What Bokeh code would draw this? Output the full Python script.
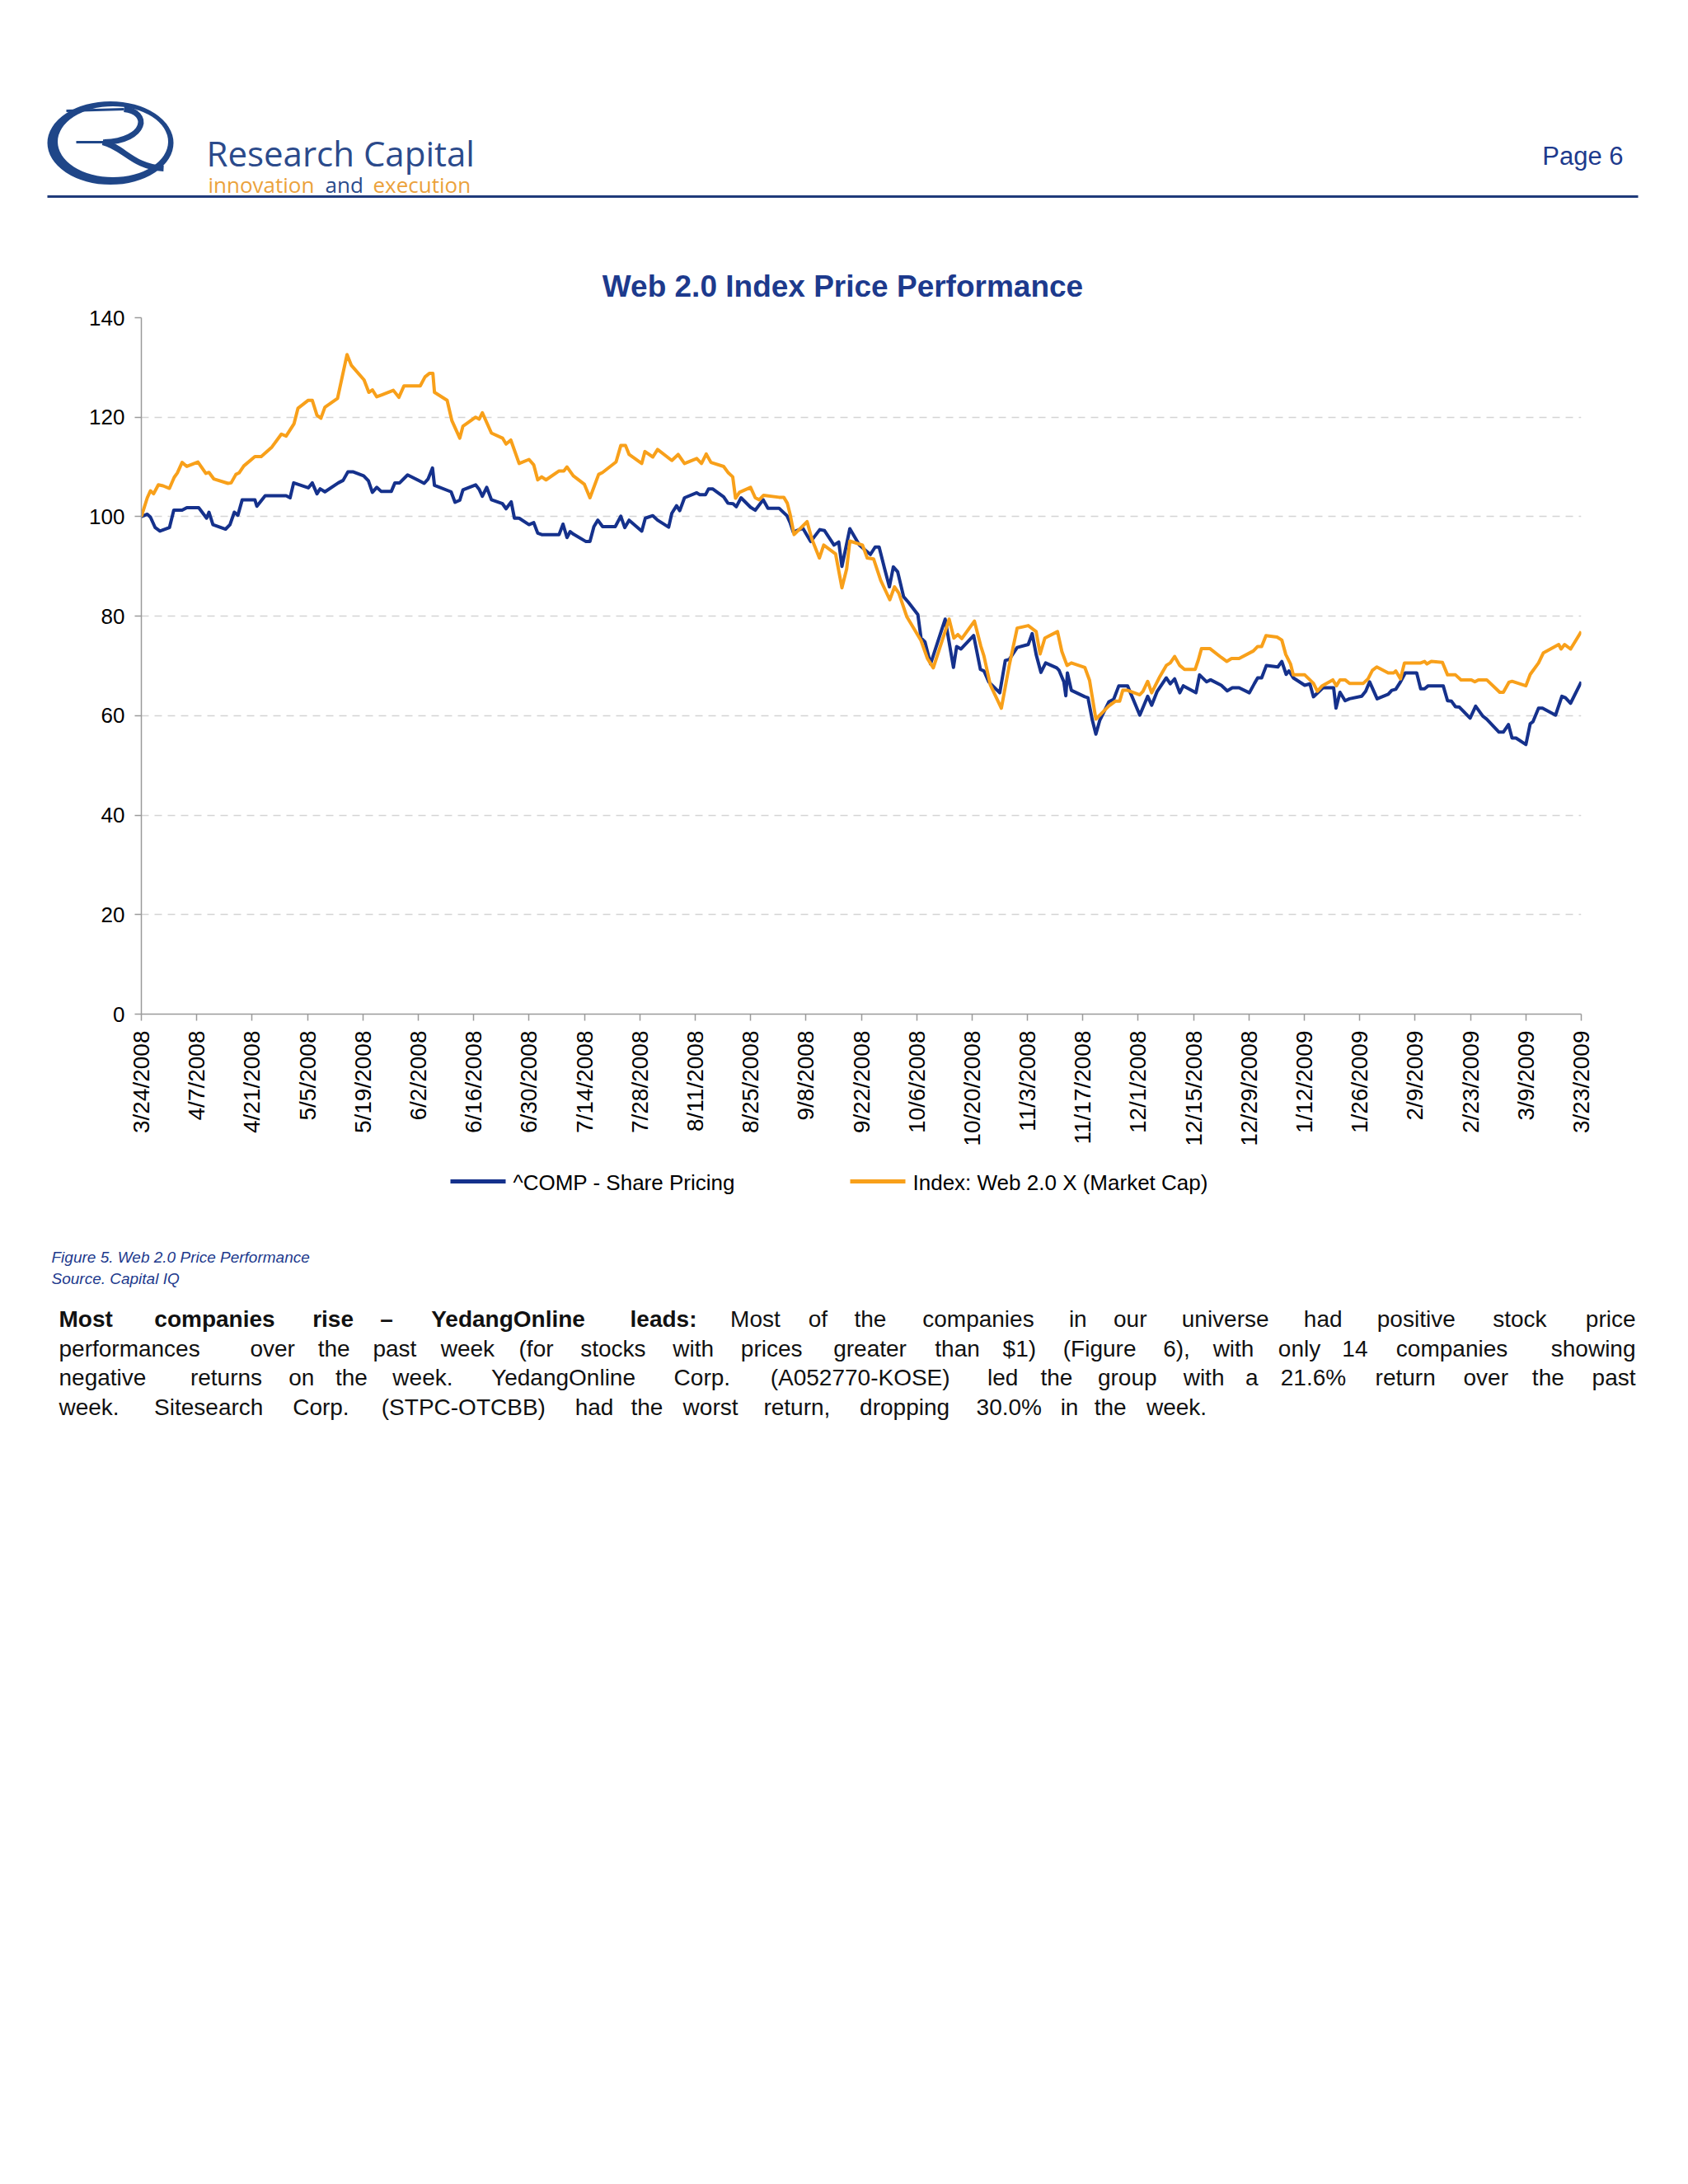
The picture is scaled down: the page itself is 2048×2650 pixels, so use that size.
import math
from bokeh.plotting import figure
from bokeh.models import Range1d, FixedTicker
from bokeh.layouts import column
from bokeh.embed import file_html
from bokeh.resources import INLINE
from bokeh.core.properties import value

# ---------------- data ----------------
# x = days after 3/24/2008, y = indexed price (3/24/2008 = 100)
comp_days = [0, 1.5, 2.3, 3.5, 4.7, 7.1, 8.2, 10.3, 11.5, 14.5, 16.5, 17.1, 18.1, 21.3, 22.4, 23.5, 24.4,
             25.5, 28.7, 29.2, 31.3, 36.6, 37.6, 38.5, 42.2, 43.2, 44.4, 45.2, 46.4, 49.8, 51.0, 52.2,
             53.6, 56.2, 57.4, 58.4, 59.5, 60.6, 63.2, 64.1, 65.3, 67.3, 71.5, 72.5, 73.6, 74.1, 78.3,
             79.3, 80.5, 81.3, 84.5, 85.4, 86.2, 87.3, 88.5, 91.3, 92.2, 93.5, 94.3, 95.5, 98.0, 99.2,
             100.2, 101.2, 105.6, 106.6, 107.6, 108.4, 109.2, 112.4, 113.4, 114.4, 115.4, 116.6, 119.8,
             121.2, 122.2, 123.3, 126.5, 127.4, 129.3, 130.5, 133.3, 134.1, 135.3, 136.1, 137.3, 140.4,
             141.2, 142.6, 143.4, 144.4, 147.2, 148.3, 149.6, 150.4, 151.6, 154.0, 155.2, 157.2, 158.4,
             161.2, 163.2, 164.0, 164.8, 167.2, 169.2, 171.5, 172.7, 175.1, 176.3, 177.1, 179.1, 181.5,
             183.1, 184.3, 185.5, 186.5, 187.9, 189.1, 190.1, 191.2, 192.7, 193.9, 196.3, 197.1, 198.1,
             199.5, 203.2, 205.3, 206.1, 207.2, 210.4, 212.1, 213.0, 214.2, 217.0, 218.4, 219.4, 221.4,
             224.2, 225.2, 226.2, 227.4, 228.6, 231.4, 232.0, 233.2, 233.7, 234.1, 235.1, 238.5, 239.3,
             240.4, 241.3, 242.3, 244.6, 245.8, 247.1, 249.3, 252.4, 254.4, 255.4, 256.8, 259.1, 260.1,
             261.2, 262.5, 263.4, 266.6, 267.5, 269.3, 270.3, 273.0, 274.5, 275.8, 277.5, 280.1, 281.4,
             282.2, 283.2, 284.4, 287.3, 288.3, 289.4, 290.1, 291.2, 294.1, 295.4, 296.3, 298.7, 301.4,
             302.0, 303.0, 304.3, 305.4, 308.5, 309.5, 310.5, 312.4, 315.2, 316.1, 317.1, 318.3, 319.5,
             322.4, 323.4, 324.4, 325.3, 329.1, 330.2, 331.2, 332.2, 333.2, 335.9, 337.3, 339.1, 340.1,
             343.2, 344.3, 345.6, 346.5, 347.5, 350.0, 351.1, 351.8, 353.2, 354.2, 357.5, 359.1, 360.0,
             361.3, 364.0]
comp_vals = [100, 100.5, 99.9, 97.8, 97.1, 97.8, 101.3, 101.3, 101.8, 101.8, 99.7, 100.9, 98.4, 97.5, 98.4,
             100.9, 100.3, 103.4, 103.4, 102.1, 104.2, 104.2, 103.8, 106.8, 105.8, 106.8, 104.6, 105.6,
             105.0, 106.8, 107.3, 109.0, 109.0, 108.2, 107.2, 104.9, 105.9, 105.1, 105.1, 106.8, 106.8,
             108.4, 106.7, 107.6, 109.8, 106.3, 105.0, 102.9, 103.3, 105.4, 106.4, 105.5, 104.1, 105.9,
             103.4, 102.6, 101.6, 103.0, 99.7, 99.7, 98.4, 98.8, 96.7, 96.4, 96.4, 98.5, 95.8, 97.0, 96.5,
             95.0, 95.0, 98.0, 99.3, 98.0, 98.0, 100.1, 97.8, 99.3, 97.1, 99.7, 100.2, 99.3, 97.9, 100.7,
             102.2, 101.2, 103.8, 104.8, 104.4, 104.4, 105.6, 105.6, 104.0, 102.7, 102.6, 102.0, 103.8,
             101.9, 101.3, 103.4, 101.7, 101.7, 100.2, 98.8, 96.9, 97.7, 95.0, 97.4, 97.2, 94.3, 94.9, 90.0,
             97.6, 94.3, 93.2, 92.4, 93.9, 93.9, 89.5, 85.9, 89.9, 88.9, 83.9, 82.8, 80.3, 75.6, 74.8, 70.4,
             79.4, 69.7, 73.9, 73.4, 76.1, 69.3, 69.0, 66.8, 64.6, 71.1, 71.3, 73.7, 74.3, 76.5, 72.3, 68.7,
             70.6, 69.6, 69.1, 66.8, 64.0, 68.6, 65.1, 63.8, 63.6, 59.1, 56.3, 59.1, 62.8, 63.3, 66.0, 66.0,
             60.1, 63.9, 62.1, 64.9, 67.6, 66.4, 67.4, 64.6, 66.0, 64.6, 68.2, 66.8, 67.2, 66.1, 65.0, 65.6,
             65.6, 64.6, 66.5, 67.6, 67.6, 70.1, 69.8, 70.9, 68.3, 69.0, 67.6, 66.1, 66.4, 63.8, 65.6, 65.6,
             61.5, 64.7, 63.0, 63.4, 63.9, 64.9, 66.8, 63.4, 64.3, 65.1, 65.3, 66.8, 68.6, 68.6, 65.4, 65.4,
             66.0, 66.0, 63.0, 62.9, 61.8, 61.7, 59.5, 61.9, 59.9, 59.3, 56.7, 56.7, 58.2, 55.5, 55.5, 54.2,
             58.4, 58.8, 61.5, 61.5, 60.1, 63.9, 63.6, 62.5, 66.8]

web_days = [0, 1.5, 2.3, 3.1, 4.3, 5.5, 7.1, 8.3, 9.1, 10.3, 11.5, 14.3, 16.3, 17.1, 18.3, 21.9, 22.7, 23.9,
            24.7, 25.9, 28.7, 30.3, 33.0, 35.4, 36.6, 38.6, 39.6, 42.2, 43.2, 44.4, 45.4, 46.4, 49.6, 52.0,
            53.1, 56.3, 57.5, 58.4, 59.5, 60.8, 63.7, 65.1, 66.4, 70.5, 71.7, 72.8, 73.7, 74.1, 77.3, 78.5,
            80.5, 81.3, 84.5, 85.4, 86.2, 88.5, 91.3, 92.2, 93.4, 95.5, 98.0, 99.2, 100.2, 101.2, 102.3,
            105.6, 106.8, 107.6, 109.2, 112.0, 113.4, 115.6, 116.6, 120.0, 121.2, 122.4, 123.3, 126.5,
            127.3, 129.3, 130.5, 134.1, 135.7, 137.3, 140.4, 141.6, 142.8, 144.0, 147.2, 148.4, 149.5,
            150.2, 151.2, 154.0, 155.2, 156.2, 157.3, 161.2, 162.4, 163.3, 164.0, 165.0, 168.3, 169.5,
            171.4, 172.5, 175.5, 177.1, 178.3, 179.1, 182.3, 183.5, 185.1, 186.9, 189.2, 190.4, 191.5,
            193.5, 197.1, 198.7, 200.2, 204.2, 205.4, 206.4, 207.4, 210.6, 212.2, 213.0, 214.6, 217.4,
            219.4, 221.4, 224.2, 226.2, 227.2, 228.4, 231.6, 232.7, 234.0, 235.1, 238.5, 239.7, 241.3,
            244.5, 246.2, 247.3, 248.1, 249.3, 252.4, 253.2, 254.4, 255.4, 257.5, 259.1, 260.1, 261.2,
            262.5, 263.7, 266.4, 267.2, 268.0, 270.1, 273.0, 274.4, 275.6, 277.5, 281.1, 282.2, 283.2,
            284.3, 287.1, 288.3, 289.3, 290.5, 291.2, 294.1, 296.3, 297.3, 298.5, 301.2, 302.1, 303.0,
            304.3, 305.4, 308.9, 310.1, 311.2, 312.3, 315.2, 316.6, 317.1, 318.3, 319.3, 323.4, 324.4,
            325.0, 326.1, 328.9, 330.2, 332.2, 333.6, 336.2, 337.1, 338.0, 340.1, 343.4, 344.3, 345.7,
            346.5, 350.0, 351.1, 353.2, 354.4, 358.3, 358.9, 359.8, 361.3, 364.0]
web_vals = [100, 103.8, 105.2, 104.6, 106.4, 106.2, 105.7, 107.9, 108.8, 110.9, 110.1, 111.0, 108.7, 108.9,
            107.6, 106.7, 106.8, 108.5, 108.8, 110.2, 112.1, 112.1, 114.0, 116.6, 116.2, 118.7, 121.8, 123.4,
            123.4, 120.4, 119.8, 122.0, 123.8, 132.6, 130.4, 127.5, 125.0, 125.5, 124.1, 124.5, 125.4, 124.0,
            126.3, 126.3, 128.1, 128.8, 128.8, 125.0, 123.4, 119.3, 115.8, 118.2, 120.0, 119.6, 120.9, 116.8,
            115.8, 114.6, 115.4, 110.7, 111.5, 110.4, 107.4, 108.0, 107.4, 109.2, 109.2, 110.0, 108.2, 106.5,
            103.8, 108.5, 108.9, 111.0, 114.3, 114.3, 112.5, 110.7, 113.1, 112.0, 113.5, 111.3, 112.5, 110.7,
            111.7, 110.7, 112.6, 110.9, 110.1, 108.8, 108.0, 103.7, 104.9, 105.9, 103.8, 103.4, 104.3, 103.9,
            103.9, 102.7, 100.5, 96.4, 99.0, 95.5, 91.7, 94.3, 92.5, 85.7, 89.5, 95.1, 94.3, 91.7, 91.5, 87.2,
            83.3, 85.9, 84.6, 79.9, 75.1, 71.5, 69.6, 79.4, 75.6, 76.3, 75.5, 79.0, 74.0, 72.0, 66.2, 61.5,
            70.1, 77.6, 78.1, 76.9, 72.4, 75.6, 76.9, 72.9, 70.1, 70.6, 69.7, 67.1, 59.3, 61.9, 62.9, 62.9,
            65.1, 65.1, 64.2, 64.9, 66.9, 64.6, 67.9, 70.1, 70.6, 71.9, 70.1, 69.3, 69.3, 71.2, 73.5, 73.5,
            71.7, 70.9, 71.5, 71.5, 73.0, 73.9, 73.9, 76.1, 75.8, 75.2, 72.3, 70.4, 68.2, 68.2, 66.5, 64.9,
            66.0, 67.2, 66.0, 67.2, 67.2, 66.5, 66.5, 67.4, 69.1, 69.8, 68.6, 68.6, 69.0, 67.4, 70.6, 70.6,
            70.9, 70.4, 70.9, 70.7, 68.2, 68.2, 67.2, 67.2, 66.8, 67.2, 67.2, 64.7, 64.7, 66.7, 66.9, 66.0,
            68.3, 70.6, 72.6, 74.3, 73.4, 74.3, 73.4, 76.9]

tick_days = list(range(0, 365, 14))
tick_labels = ["3/24/2008", "4/7/2008", "4/21/2008", "5/5/2008", "5/19/2008", "6/2/2008", "6/16/2008",
               "6/30/2008", "7/14/2008", "7/28/2008", "8/11/2008", "8/25/2008", "9/8/2008", "9/22/2008",
               "10/6/2008", "10/20/2008", "11/3/2008", "11/17/2008", "12/1/2008", "12/15/2008",
               "12/29/2008", "1/12/2009", "1/26/2009", "2/9/2009", "2/23/2009", "3/9/2009", "3/23/2009"]
y_ticks = [0, 20, 40, 60, 80, 100, 120, 140]

series_names = ["^COMP - Share Pricing", "Index: Web 2.0 X (Market Cap)"]
chart_title = "Web 2.0 Index Price Performance"
caption_lines = ["Figure 5. Web 2.0 Price Performance", "Source. Capital IQ"]
para_lines = [
    [("Most companies rise \u2013 YedangOnline leads:", True),
     ("Most of the companies in our universe had positive stock price", False)],
    [("performances over the past week (for stocks with prices greater than $1) (Figure 6), with only 14 companies showing", False)],
    [("negative returns on the week. YedangOnline Corp. (A052770-KOSE) led the group with a 21.6% return over the past", False)],
    [("week. Sitesearch Corp. (STPC-OTCBB) had the worst return, dropping 30.0% in the week.", False)],
]

# ---------------- styles ----------------
W = 2048
BLUE = "#15318c"
ORANGE = "#f8a01a"
NAVY = "#1d3a8d"
LOGO = "#1f4688"
FONT = "Liberation Sans"


def blank(height, top, bottom):
    f = figure(width=W, height=height, x_range=Range1d(0, W), y_range=Range1d(bottom, top),
               x_axis_type=None, y_axis_type=None, toolbar_location=None, output_backend="svg",
               min_border=0, outline_line_color=None)
    f.frame_align = False
    f.background_fill_color = "white"
    f.border_fill_color = "white"
    return f


# ---------------- header (page coordinates) ----------------
pa = blank(372, 0, 372)
pa.ellipse(x=[133.5], y=[173], width=[153], height=[101], fill_color=LOGO, line_color=None)
pa.ellipse(x=[136.5], y=[171.5], width=[134], height=[86], fill_color="white", line_color=None)
pa.line([80, 150], [134, 132], line_color=LOGO, line_width=3)
pa.bezier(x0=[150], y0=[132], x1=[126], y1=[172], cx0=[182], cy0=[135], cx1=[178], cy1=[170],
          line_color=LOGO, line_width=7)
pa.line([92, 130], [172, 172], line_color=LOGO, line_width=3)
pa.bezier(x0=[124], y0=[172], x1=[198], y1=[204], cx0=[150], cy0=[178], cx1=[160], cy1=[202],
          line_color=LOGO, line_width=7)
pa.text(x=[250], y=[185], text=["Research Capital"], text_font=value("Open Sans"), text_font_size="42px",
        text_color="#2b4a8b", text_baseline="alphabetic")
pa.text(x=[252, 452], y=[223, 223], text=["innovation", "execution"], text_font=value("Open Sans"),
        text_font_size="26px", text_color="#eba23c", text_baseline="alphabetic")
pa.text(x=[394], y=[223], text=["and"], text_font=value("Open Sans"), text_font_size="26px",
        text_color="#2b4a8b", text_baseline="alphabetic")
pa.text(x=[1969], y=[189], text=["Page 6"], text_font=value(FONT), text_font_size="31px",
        text_color=NAVY, text_align="right", text_baseline="alphabetic")
pa.line([57, 1987], [238, 238], line_color="#1f3a7a", line_width=3)
pa.text(x=[1022], y=[347], text=[chart_title], text_font=value(FONT), text_font_style="bold",
        text_font_size="37px", text_color=NAVY, text_align="center", text_baseline="middle")

# ---------------- chart ----------------
pb = figure(width=W, height=1023, x_range=Range1d(0, 364), y_range=Range1d(0, 140),
            toolbar_location=None, output_backend="svg",
            min_border_left=171, min_border_right=130, min_border_top=13, min_border_bottom=165)
pb.frame_align = False
pb.outline_line_color = None
pb.background_fill_color = "white"
pb.border_fill_color = "white"
pb.xgrid.visible = False
pb.ygrid.ticker = FixedTicker(ticks=y_ticks[1:])
pb.ygrid.grid_line_color = "#d4d4d4"
pb.ygrid.grid_line_dash = "9 7"
pb.ygrid.grid_line_width = 1.5
pb.yaxis.ticker = FixedTicker(ticks=y_ticks)
pb.xaxis.ticker = FixedTicker(ticks=tick_days)
pb.xaxis.major_label_overrides = {d: s for d, s in zip(tick_days, tick_labels)}
pb.xaxis.major_label_orientation = math.pi / 2
for ax in (pb.xaxis[0], pb.yaxis[0]):
    ax.axis_line_color = "#9a9a9a"
    ax.axis_line_width = 1.5
    ax.major_tick_line_color = "#9a9a9a"
    ax.major_tick_line_width = 1.5
    ax.major_tick_in = 0
    ax.major_tick_out = 8
    ax.minor_tick_line_color = None
    ax.major_label_text_font = FONT
    ax.major_label_text_color = "#000000"
    ax.major_label_standoff = 12
pb.yaxis.major_label_text_font_size = "26px"
pb.xaxis.major_label_text_font_size = "28px"

pb.line(comp_days, comp_vals, line_color=BLUE, line_width=4, line_join="round")
pb.line(web_days, web_vals, line_color=ORANGE, line_width=4, line_join="round")

# ---------------- legend, captions, paragraph (page coordinates) ----------------
pc = blank(1245, 1395, 2640)
pc.line([546, 613], [1433, 1433], line_color=BLUE, line_width=5)
pc.line([1031, 1098], [1433, 1433], line_color=ORANGE, line_width=5)
pc.text(x=[622, 1107], y=[1434, 1434], text=series_names, text_font=value(FONT), text_font_size="26px",
        text_color="#000000", text_baseline="middle")
pc.text(x=[62, 62], y=[1525, 1551], text=caption_lines, text_font=value(FONT), text_font_style="italic",
        text_font_size="19px", text_color=NAVY, text_baseline="middle")

AR = {' ': 278, '$': 556, '%': 889, '(': 333, ')': 333, ',': 278, '-': 333, '.': 278, ':': 278, '\u2013': 556,
      'A': 667, 'B': 667, 'C': 722, 'D': 722, 'E': 667, 'F': 611, 'G': 778, 'H': 722, 'I': 278, 'J': 500,
      'K': 667, 'L': 556, 'M': 833, 'N': 722, 'O': 778, 'P': 667, 'Q': 778, 'R': 722, 'S': 667, 'T': 611,
      'U': 722, 'V': 667, 'W': 944, 'X': 667, 'Y': 667, 'Z': 611,
      'a': 556, 'b': 556, 'c': 500, 'd': 556, 'e': 556, 'f': 278, 'g': 556, 'h': 556, 'i': 222, 'j': 222,
      'k': 500, 'l': 222, 'm': 833, 'n': 556, 'o': 556, 'p': 556, 'q': 556, 'r': 333, 's': 500, 't': 278,
      'u': 556, 'v': 500, 'w': 722, 'x': 500, 'y': 500, 'z': 500}
ARB = dict(AR)
ARB.update({':': 333, 'b': 611, 'c': 556, 'd': 611, 'f': 333, 'g': 611, 'h': 611, 'i': 278, 'j': 278,
            'k': 556, 'l': 278, 'm': 889, 'n': 611, 'o': 611, 'p': 611, 'q': 611, 'r': 389, 's': 556,
            't': 333, 'u': 611, 'v': 556, 'w': 778, 'y': 556, 'J': 556, 'K': 722, 'L': 611, 'A': 722,
            'B': 722})
FS = 28
LS = 3.3
X0, X1 = 71, 1984
line_y = [1600, 1636, 1671, 1707]


def natural(word, bold):
    tbl = ARB if bold else AR
    return sum(tbl.get(ch, 556) for ch in word) * FS / 1000.0


# each word gets a slot as wide as the tracked word; the word is centred in its slot,
# the first word is flush left and the last word of a justified line flush right
words_out = {"left": ([], [], []), "center": ([], [], []), "right": ([], [], [])}
bold_out = {"left": ([], [], []), "center": ([], [], []), "right": ([], [], [])}
for li, segs in enumerate(para_lines):
    words = []
    for s, b in segs:
        words += [(w, b) for w in s.split(" ")]
    slots = [natural(w, b) + LS * len(w) for w, b in words]
    justified = li < len(para_lines) - 1
    if justified:
        gap = (X1 - X0 - sum(slots) + LS) / (len(words) - 1)
    else:
        gap = AR[' '] * FS / 1000.0 + LS
    x = X0
    for k, ((w, b), sw) in enumerate(zip(words, slots)):
        tgt = bold_out if b else words_out
        if k == 0:
            key, px = "left", x
        elif justified and k == len(words) - 1:
            key, px = "right", X1
        else:
            key, px = "center", x + (sw - LS) / 2.0
        tgt[key][0].append(px)
        tgt[key][1].append(line_y[li])
        tgt[key][2].append(w)
        x += sw + gap

for style, table in (("normal", words_out), ("bold", bold_out)):
    for align, (xs, ys, ts) in table.items():
        if ts:
            pc.text(x=xs, y=ys, text=ts, text_font=value(FONT), text_font_style=style,
                    text_font_size="%dpx" % FS, text_color="#111111", text_baseline="middle",
                    text_align=align)

layout = column(pa, pb, pc, spacing=0)
open("out.html", "w").write(file_html(layout, INLINE))
